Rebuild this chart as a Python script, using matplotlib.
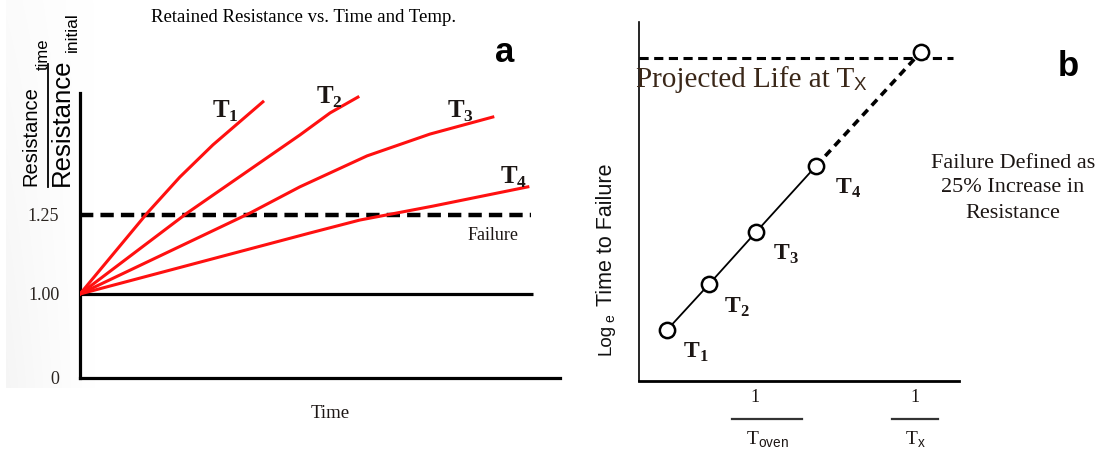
import numpy as np
import matplotlib
matplotlib.use("Agg")
import matplotlib.pyplot as plt
from matplotlib.lines import Line2D

# ---- data -------------------------------------------------------------
# Panel a: retained resistance ratio vs. time for four oven temperatures
t1_time = [0.0, 1.40, 2.08, 2.77, 3.81]
t1_ratio = [1.00, 1.256, 1.370, 1.472, 1.608]
t2_time = [0.0, 2.23, 4.58, 5.21, 5.79]
t2_ratio = [1.00, 1.256, 1.503, 1.573, 1.623]
t3_time = [0.0, 3.54, 4.58, 5.98, 7.29, 8.60]
t3_ratio = [1.00, 1.256, 1.339, 1.437, 1.506, 1.560]
t4_time = [0.0, 4.79, 5.83, 7.35, 9.33]
t4_ratio = [1.00, 1.193, 1.234, 1.278, 1.339]
curve_labels = ["1", "2", "3", "4"]
baseline_ratio = 1.00
failure_ratio = 1.25
ytick_values = [0.0, 1.00, 1.25]
ytick_labels = ["0", "1.00", "1.25"]

# Panel b: Arrhenius plot, log time-to-failure vs. inverse temperature
inv_temp = [0.875, 2.19, 3.66, 5.53]
log_ttf = [1.417, 2.69, 4.14, 5.97]
inv_tx = 8.81
log_life_tx = 9.14
projected_level = 8.97
inv_toven_tick = 4.0
inv_tx_tick = 8.63

# ---- style ------------------------------------------------------------
W, H = 1108, 450
SERIF = "Liberation Serif"
SANS = "Liberation Sans"
plt.rcParams["mathtext.fontset"] = "custom"
plt.rcParams["mathtext.rm"] = SERIF
plt.rcParams["mathtext.bf"] = SERIF + ":bold"
plt.rcParams["mathtext.sf"] = SANS
RED = "#ff1010"
INK = "#1c1614"
BROWN = "#3a2718"

fig = plt.figure(figsize=(W / 100, H / 100), dpi=100)


def fx(px):
    return px / W


def fy(py):
    return (H - py) / H


# faint backdrop on the far left
bg = fig.add_axes([fx(6), fy(388), fx(90), 388 / H], zorder=-5)
gx = np.linspace(1.0, 0.0, 200) ** 1.2
gy = np.clip(np.linspace(0.4, 1.0, 120), 0, 1)[:, None]
rgba = np.zeros((120, 200, 4))
rgba[..., :3] = 0.955
rgba[..., 3] = gx[None, :] * gy * 0.8
bg.imshow(rgba, aspect="auto", extent=[0, 1, 0, 1], origin="upper")
bg.axis("off")

# ---- panel a ----------------------------------------------------------
ax = fig.add_axes([fx(80), fy(378), fx(480), (378 - 93) / H])


def fwd(v):
    v = np.asarray(v, float)
    return np.where(v <= 1, 84 * v, 84 + 316 * (v - 1))


def inv(h):
    h = np.asarray(h, float)
    return np.where(h <= 84, h / 84, 1 + (h - 84) / 316)


ax.set_yscale("function", functions=(fwd, inv))
ax.set_xlim(0, 10)
ax.set_ylim(0, 1.636)
ax.patch.set_alpha(0)
for s in ["top", "right"]:
    ax.spines[s].set_visible(False)
for s in ["left", "bottom"]:
    ax.spines[s].set_linewidth(2.3)
    ax.spines[s].set_color("black")
ax.set_xticks([])
ax.set_yticks(ytick_values)
ax.set_yticklabels(ytick_labels, fontfamily=SERIF, fontsize=13, color="#2a2420")
ax.tick_params(axis="y", length=0, pad=15)
ax.minorticks_off()

ax.plot([0, 9.44], [baseline_ratio, baseline_ratio], color="black", lw=2.3,
        solid_capstyle="butt")
ax.plot([0, 9.4], [failure_ratio, failure_ratio], color="black", lw=3.2,
        linestyle=(0, (3.0, 1.6)))
for tt, rr in [(t1_time, t1_ratio), (t2_time, t2_ratio),
               (t3_time, t3_ratio), (t4_time, t4_ratio)]:
    ax.plot(tt, rr, color=RED, lw=2.2, solid_joinstyle="round", zorder=3)

label_pos_a = [(225, 111), (329, 97), (461, 111), (514, 177)]
for lab, (px, py) in zip(curve_labels, label_pos_a):
    fig.text(fx(px), fy(py), r"$\mathbf{T}_{\mathbf{%s}}$" % lab, fontsize=18,
             color=INK, ha="center", va="center")

fig.text(fx(493), fy(235), "Failure", fontfamily=SERIF, fontsize=13,
         color=INK, ha="center", va="center")
fig.text(fx(330), fy(413), "Time", fontfamily=SERIF, fontsize=13.5,
         color=INK, ha="center", va="center")
fig.text(fx(304), fy(18), "Retained Resistance vs. Time and Temp.",
         fontfamily=SERIF, fontsize=13.5, color="black", ha="center",
         va="center")
fig.text(fx(505), fy(53), "a", fontfamily=SANS, fontweight="bold",
         fontsize=25, color="black", ha="center", va="center")

# stacked ratio label on the y axis
rot = dict(rotation=90, rotation_mode="anchor", ha="left", va="center",
           fontfamily=SANS, color="black")
fig.text(fx(31), fy(186), "Resistance", fontsize=14.5, **rot)
fig.text(fx(43), fy(70), "time", fontsize=12, **rot)
fig.add_artist(Line2D([fx(47.5), fx(47.5)], [fy(187), fy(64)], color="black",
                      lw=1.3))
fig.text(fx(62), fy(186), "Resistance", fontsize=18.5, **rot)
fig.text(fx(72), fy(52), "initial", fontsize=12.5, **rot)

# ---- panel b ----------------------------------------------------------
bx = fig.add_axes([fx(639), fy(381), fx(320), (381 - 22) / H])
bx.set_xlim(0, 10)
bx.set_ylim(0, 359 / 36)
for s in ["top", "right"]:
    bx.spines[s].set_visible(False)
bx.spines["left"].set_linewidth(1.2)
bx.spines["bottom"].set_linewidth(2.0)
bx.set_xticks([])
bx.set_yticks([])

bx.plot([0, 9.81], [projected_level, projected_level], color="black", lw=2.2,
        linestyle=(0, (3.0, 1.8)), zorder=2)
bx.plot([inv_temp[-1], inv_tx], [log_ttf[-1], log_life_tx], color="black",
        lw=2.6, linestyle=(0, (2.2, 1.6)), zorder=2)
bx.plot(inv_temp, log_ttf, color="black", lw=1.3, zorder=2)
bx.plot(inv_temp + [inv_tx], log_ttf + [log_life_tx], linestyle="none",
        marker="o", ms=11, mfc="white", mec="black", mew=1.8, zorder=4)

label_pos_b = [(696, 352), (737, 307), (786, 254), (848, 188)]
for lab, (px, py) in zip(curve_labels, label_pos_b):
    fig.text(fx(px), fy(py), r"$\mathbf{T}_{\mathbf{%s}}$" % lab, fontsize=17,
             color=INK, ha="center", va="center")

fig.text(fx(636), fy(87), "Projected Life at T", fontfamily=SERIF,
         fontsize=21, color=BROWN, ha="left", va="baseline")
fig.text(fx(854), fy(90), "X", fontfamily=SANS, fontsize=13.5, color=BROWN,
         ha="left", va="baseline")

for i, line in enumerate(["Failure Defined as", "25% Increase in",
                          "Resistance"]):
    fig.text(fx(1013), fy(163 + 25 * i), line, fontfamily=SERIF, fontsize=16,
             color=INK, ha="center", va="center")

fig.text(fx(1068), fy(67), "b", fontfamily=SANS, fontweight="bold",
         fontsize=25, color="black", ha="center", va="center")

# y label: Log_e Time to Failure
rotb = dict(rotation=90, rotation_mode="anchor", ha="left", va="center",
            fontfamily=SANS, color="#111111")
fig.text(fx(606), fy(355), "Log", fontsize=13.5, **rotb)
fig.text(fx(610), fy(322), "e", fontsize=10, **rotb)
fig.text(fx(606), fy(306), "Time to Failure", fontsize=15.5, **rotb)

# inverse-temperature tick labels written as fractions
for xv, half, sub, one_dx in [(inv_toven_tick, 35, "oven", -12),
                              (inv_tx_tick, 23, "x", 0)]:
    xpix = bx.transData.transform((xv, 0))[0]
    fig.text(fx(xpix + one_dx), fy(398), "1", fontfamily=SERIF, fontsize=13,
             color=INK, ha="center", va="center")
    fig.add_artist(Line2D([fx(xpix - half), fx(xpix + half)],
                          [fy(419), fy(419)], color="#333333", lw=1.6))
    fig.text(fx(xpix), fy(440), r"T$_{\mathsf{%s}}$" % sub, fontfamily=SERIF,
             fontsize=14, color=INK, ha="center", va="center")

fig.savefig("out.png", dpi=100)
